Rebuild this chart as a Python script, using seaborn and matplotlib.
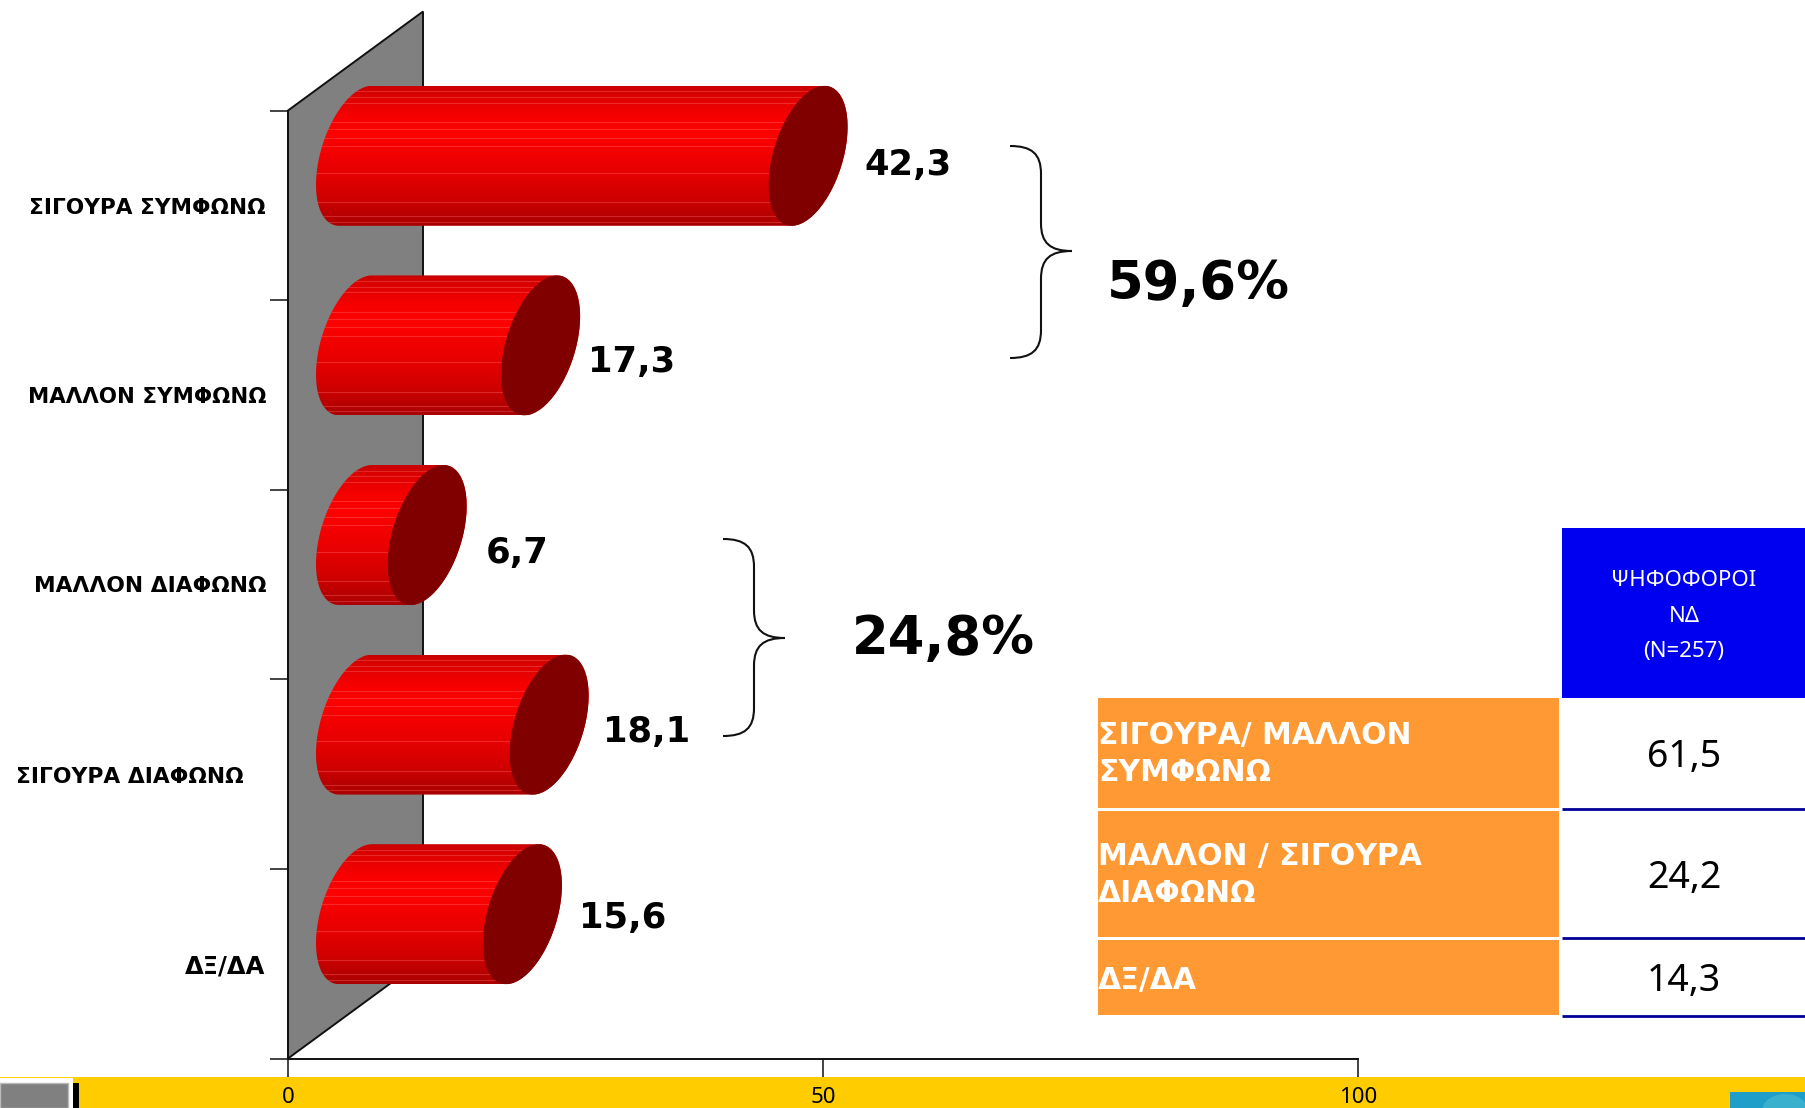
import numpy as np
import matplotlib
matplotlib.use("Agg")
import matplotlib.pyplot as plt
from matplotlib.patches import Polygon, Rectangle, PathPatch, Ellipse
from matplotlib.path import Path
from matplotlib.transforms import Affine2D
import seaborn as sns

# ---------- data ----------
categories = ["ΣΙΓΟΥΡΑ ΣΥΜΦΩΝΩ", "ΜΑΛΛΟΝ ΣΥΜΦΩΝΩ", "ΜΑΛΛΟΝ ΔΙΑΦΩΝΩ", "ΣΙΓΟΥΡΑ ΔΙΑΦΩΝΩ", "ΔΞ/ΔΑ"]
values = [42.3, 17.3, 6.7, 18.1, 15.6]
value_labels = ["42,3", "17,3", "6,7", "18,1", "15,6"]
x_ticks = [0, 50, 100]
brace_labels = ["59,6%", "24,8%"]
table_rows = ["ΣΙΓΟΥΡΑ/ ΜΑΛΛΟΝ\nΣΥΜΦΩΝΩ", "ΜΑΛΛΟΝ / ΣΙΓΟΥΡΑ\nΔΙΑΦΩΝΩ", "ΔΞ/ΔΑ"]
table_values = ["61,5", "24,2", "14,3"]
table_header = ["ΨΗΦΟΦΟΡΟΙ", "ΝΔ", "(N=257)"]

# ---------- layout (pixels of the 1805x1108 picture) ----------
W, H = 1805, 1108
AX_L, AX_R, AX_T, AX_B = 288, 1358, 110.5, 1058.5
DEPTH_X, DEPTH_Y = 135, 99
label_right = [266, 266, 266, 244, 265]
label_y = [208, 397, 586, 777, 966]
label_size = [15.6, 15.4, 15.7, 15.7, 17.5]
value_label_y = [165, 362, 553, 732, 918]
value_gap = [17, 8, 19, 14, 17]
GOLD, ORANGE, BLUE, NAVY = "#FFCC00", "#FF9933", "#0000F0", "#000099"

sns.set_theme(style="white")
plt.rcParams["font.family"] = ["DejaVu Sans"]
fig = plt.figure(figsize=(W / 100, H / 100), dpi=100, facecolor="white")


def full_axes(z):
    a = fig.add_axes([0, 0, 1, 1], zorder=z)
    a.set_xlim(0, W)
    a.set_ylim(H, 0)
    a.axis("off")
    return a


bg = full_axes(0)
ax = fig.add_axes([AX_L / W, 1 - AX_B / H, (AX_R - AX_L) / W, (AX_B - AX_T) / H], zorder=1)
fg = full_axes(2)

# ---------- back wall and footer ----------
bg.add_patch(Polygon([(AX_L, AX_T), (AX_L + DEPTH_X, AX_T - DEPTH_Y),
                      (AX_L + DEPTH_X, AX_B - DEPTH_Y), (AX_L, AX_B)],
                     closed=True, facecolor="#808080", edgecolor="#111111", lw=1.4))
bg.add_patch(Rectangle((0, 1077), W, 31, facecolor=GOLD, edgecolor="none"))
bg.add_patch(Rectangle((0, 1078), 73, 30, facecolor="white", edgecolor="none"))
bg.add_patch(Rectangle((0, 1083), 68, 25, facecolor="#808080", edgecolor="#BBBBBB", lw=1))
bg.add_patch(Rectangle((73, 1083), 6, 25, facecolor="black", edgecolor="none"))
bg.add_patch(Rectangle((1730, 1092), 75, 16, facecolor="#1E9EC8", edgecolor="none"))
bg.add_patch(Ellipse((1785, 1111), 46, 34, facecolor="#3AB0CF", edgecolor="none"))

# ---------- seaborn bars ----------
BAR_WIDTH = 0.672
sns.barplot(x=values, y=categories, orient="h", color="#E00000", width=BAR_WIDTH,
            ax=ax, saturation=1)
ax.set_xlim(0, 100)
ax.set_ylim(4.5, -0.5)
ax.patch.set_alpha(0)
for s in ("top", "right"):
    ax.spines[s].set_visible(False)
for s in ("left", "bottom"):
    ax.spines[s].set_color("#111111")
    ax.spines[s].set_linewidth(1.4)
ax.set_xticks(x_ticks)
ax.set_xticklabels([str(t) for t in x_ticks], family="Noto Sans", color="black")
ax.set_yticks(np.arange(-0.5, 5, 1))
ax.set_yticklabels([])
ax.tick_params(axis="both", which="major", length=13, width=1.1, color="#111111",
               left=True, bottom=True)
ax.tick_params(axis="x", labelsize=16, pad=7.5)
ax.set_xlabel("")
ax.set_ylabel("")

# ---------- turn each bar into a cylinder ----------
A, C, B = 39.5, 29.0, 63.7
PHI = np.arctan2(C, B)
R = np.hypot(B, C)
stops = [0, .05, .2, .34, .6, .8, .93, 1]
stop_r = [200, 215, 245, 255, 232, 208, 182, 170]
stripes = [.04, .08, .12, .26, .31, .37, .43, .62, .83, .93, .97]


def arc(cx, cy, t0, t1):
    t = np.linspace(t0, t1, 60)
    return np.column_stack([cx + A * np.cos(t), cy - C * np.cos(t) + B * np.sin(t)])


grad = np.zeros((256, 1, 3))
grad[:, 0, 0] = np.interp(np.linspace(0, 1, 256), stops, stop_r) / 255

for i, bar in enumerate(ax.patches):
    bar.set_transform(ax.transData + Affine2D().translate(DEPTH_X / 2, DEPTH_Y / 2))
    bar.set_clip_on(False)
    bar.set_linewidth(0)
    px0, py = ax.transData.transform((bar.get_x(), bar.get_y() + bar.get_height() / 2))
    px1, _ = ax.transData.transform((bar.get_x() + bar.get_width(), 0))
    x0 = px0 + DEPTH_X / 2
    x1 = px1 + DEPTH_X / 2
    cy = H - py - DEPTH_Y / 2
    outline = np.vstack([arc(x0, cy, PHI + np.pi / 2, PHI + 3 * np.pi / 2),
                         arc(x1, cy, PHI - np.pi / 2, PHI + np.pi / 2)])
    im = fg.imshow(grad, extent=(x0 - A, x1 + A, cy + R, cy - R), aspect="auto", zorder=2)
    clip = Polygon(outline, closed=True, transform=fg.transData)
    im.set_clip_path(clip)
    for s in stripes:
        yy = cy - R + 2 * R * s
        ln, = fg.plot([x0 - A, x1], [yy, yy], color="#FF7070", lw=0.8, alpha=0.35, zorder=2.1)
        ln.set_clip_path(clip)
    fg.add_patch(Polygon(arc(x1, cy, 0, 2 * np.pi), closed=True, facecolor="#800000",
                         edgecolor="none", zorder=3))
    fg.text(x1 + A + value_gap[i], value_label_y[i], value_labels[i], fontsize=25.5,
            fontweight="bold", ha="left", va="center", color="black", zorder=4)
    fg.text(label_right[i], label_y[i], categories[i], fontsize=label_size[i], fontweight="bold",
            ha="right", va="center", color="black", zorder=4)
fg.set_xlim(0, W)
fg.set_ylim(H, 0)


# ---------- braces ----------
def brace(xl, xm, xt, yt, ym, yb):
    d = xm - xl
    v = [(xl, yt), (xm - d * .3, yt), (xm, yt + d * .25), (xm, yt + d * .9),
         (xm, ym - d * .9), (xm, ym - d * .9), (xm, ym - d * .9),
         (xm, ym - d * .25), (xm + d * .3, ym), (xt, ym),
         (xm + d * .3, ym), (xm, ym + d * .25), (xm, ym + d * .9),
         (xm, yb - d * .9), (xm, yb - d * .9), (xm, yb - d * .9),
         (xm, yb - d * .25), (xm - d * .3, yb), (xl, yb)]
    codes = [Path.MOVETO] + [Path.CURVE4] * (len(v) - 1)
    fg.add_patch(PathPatch(Path(v, codes), facecolor="none", edgecolor="#111111", lw=1.5))


brace(1010, 1041, 1072, 146, 251, 358)
brace(723, 754, 785, 539, 638, 736)
fg.text(1198, 284, brace_labels[0], fontsize=38, fontweight="bold", ha="center", va="center", color="black")
fg.text(943, 639, brace_labels[1], fontsize=38, fontweight="bold", ha="center", va="center", color="black")

# ---------- table ----------
rows_y = [(698, 808), (811, 937), (940, 1015)]
line_y = [809, 938, 1016]
row_text_y = [754, 875, 980]
row_val_y = [757, 878, 981]
TX0, TX1, VX0, VXC = 1098, 1559, 1562, 1684
fg.add_patch(Rectangle((VX0, 528), W - VX0, 170, facecolor=BLUE, edgecolor="none"))
for s, yy in zip(table_header, [581, 616, 651]):
    fg.text(VXC, yy, s, fontsize=16, family="Noto Sans", color="white", ha="center", va="center")
for (y0, y1), lab, ly, val, ty, vy in zip(rows_y, table_rows, line_y, table_values, row_text_y, row_val_y):
    fg.add_patch(Rectangle((TX0, y0), TX1 - TX0, y1 - y0, facecolor=ORANGE, edgecolor="none"))
    fg.text(TX0, ty, lab, fontsize=21.5, fontweight="bold", color="white", ha="left", va="center",
            linespacing=1.36)
    fg.text(VXC, vy, val, fontsize=27, family="Noto Sans", color="black", ha="center", va="center")
    fg.plot([VX0, W], [ly, ly], color=NAVY, lw=2, solid_capstyle="butt")

fig.savefig("out.png", dpi=100, facecolor="white")
